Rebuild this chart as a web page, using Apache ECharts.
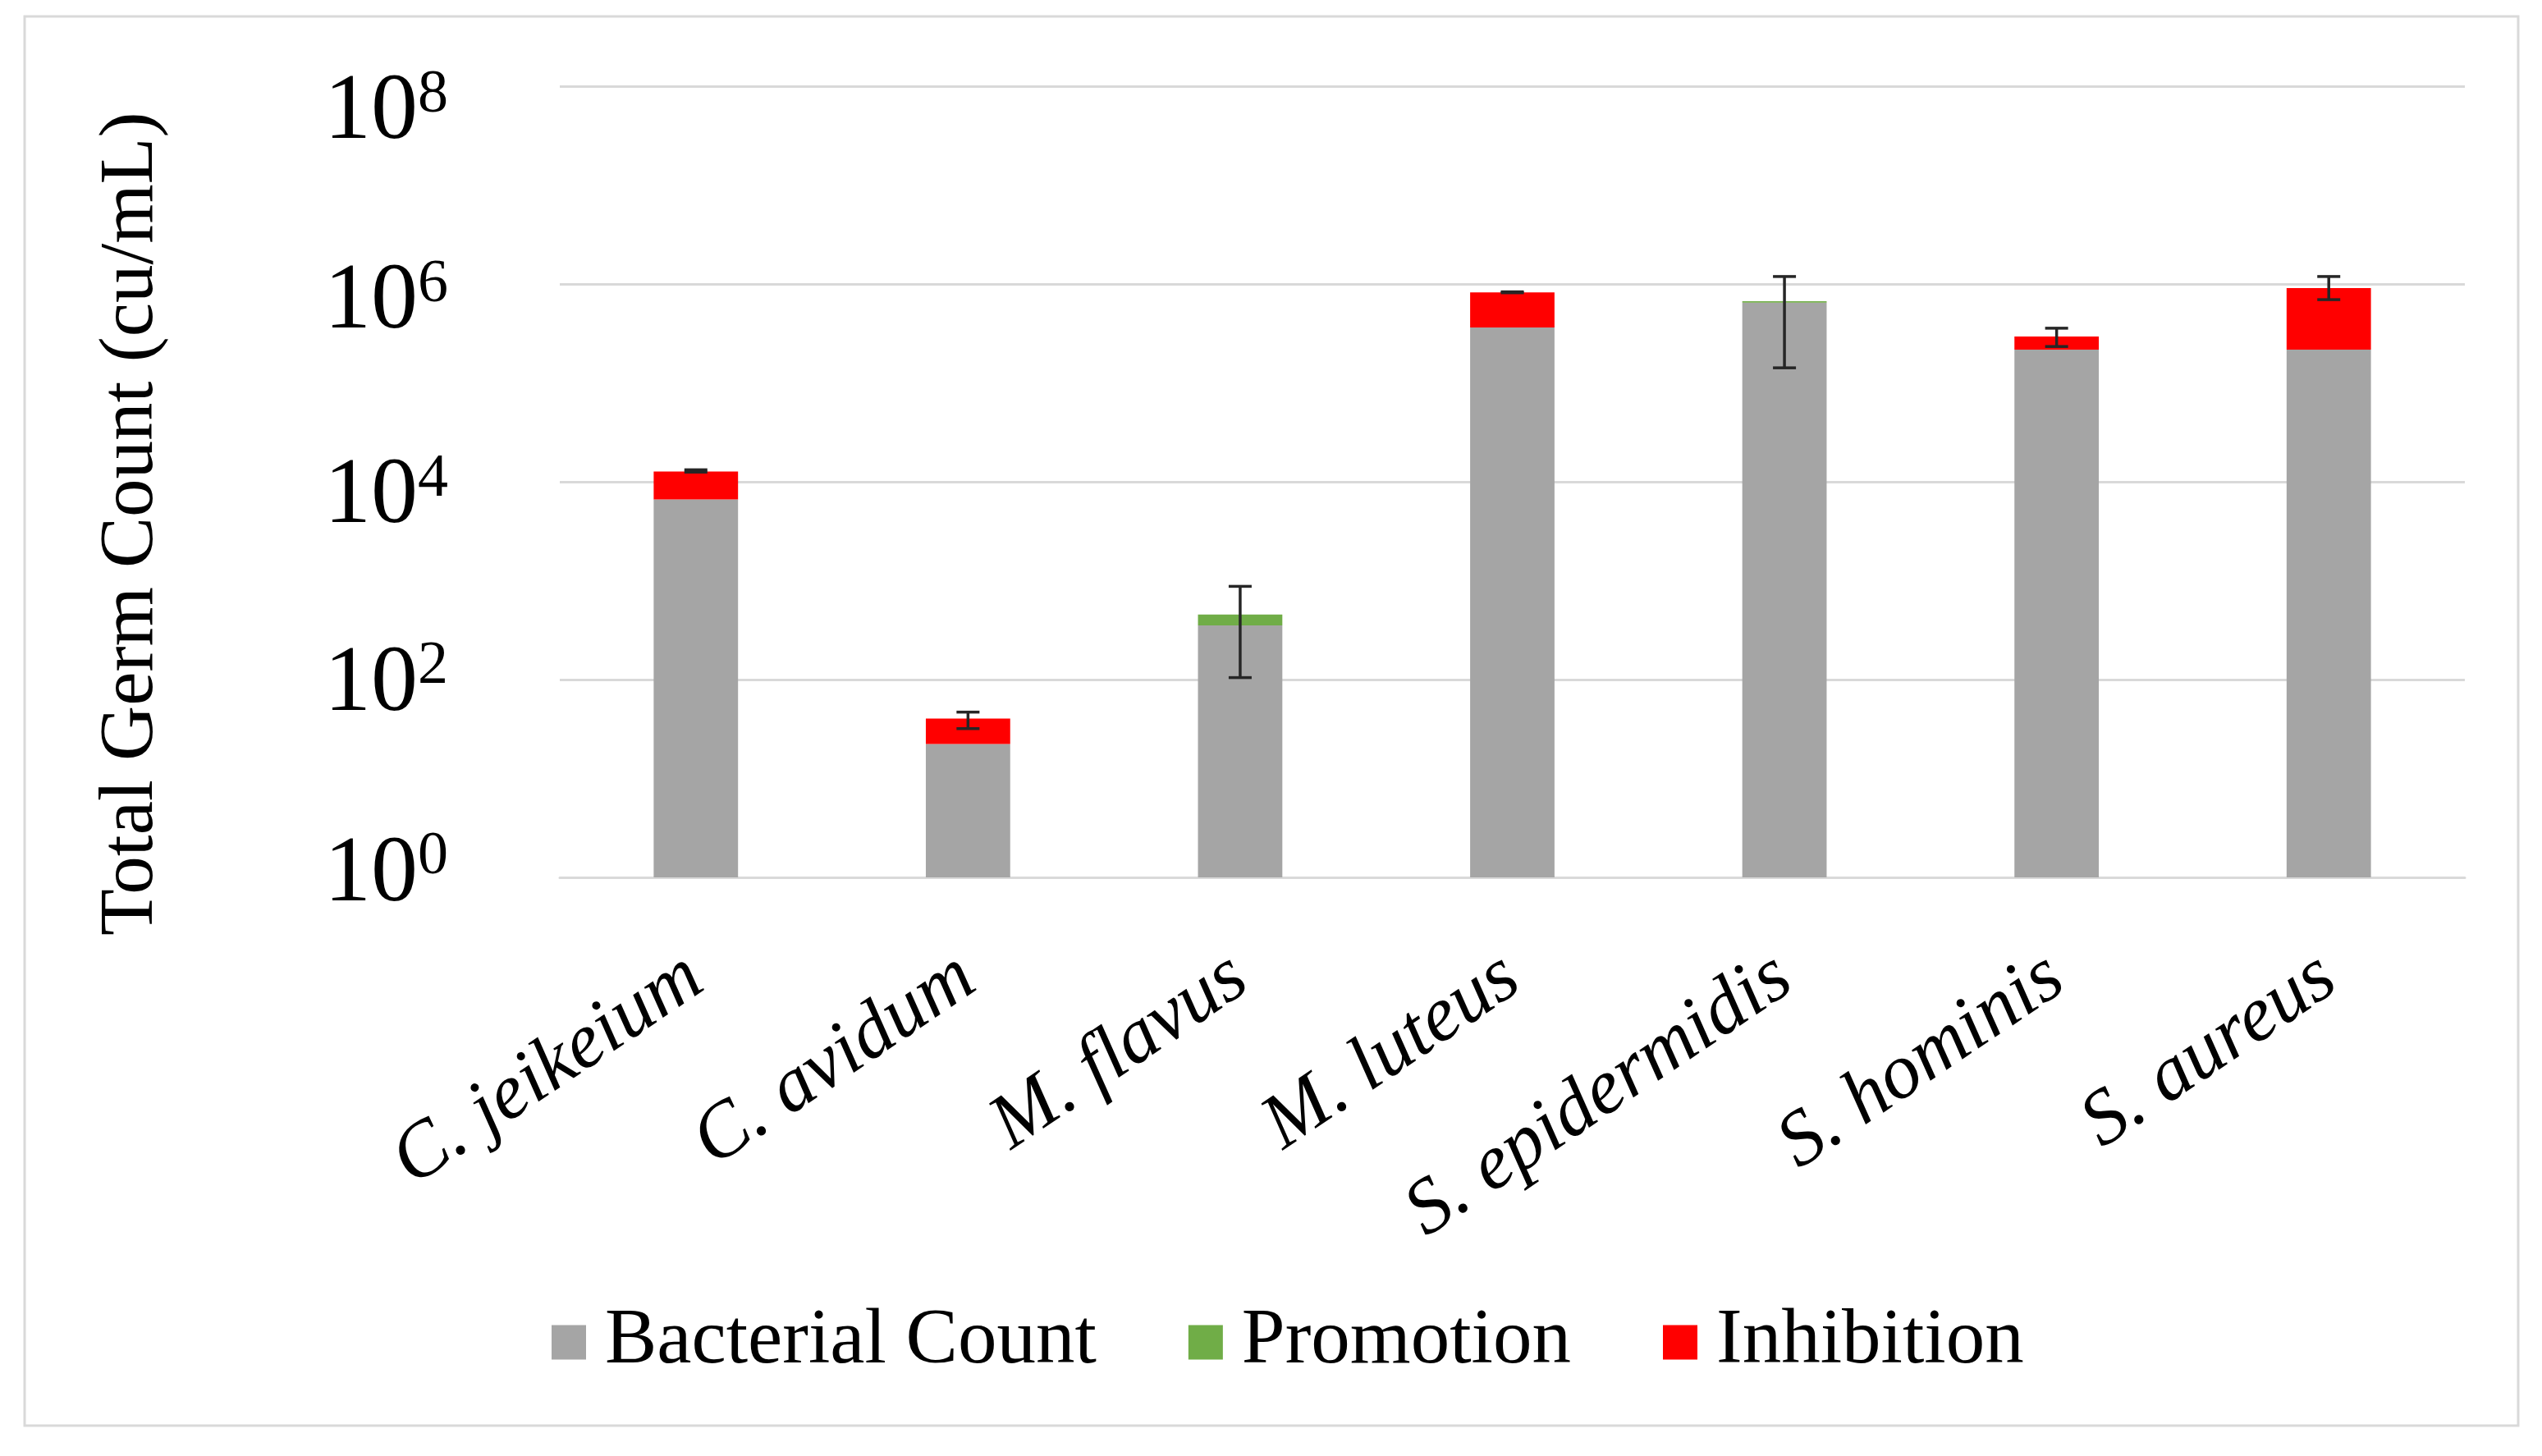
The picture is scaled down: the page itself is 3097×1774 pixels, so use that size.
<!DOCTYPE html>
<html>
<head>
<meta charset="utf-8">
<script src="https://cdn.jsdelivr.net/npm/echarts@6/dist/echarts.min.js"></script>
<style>
  html, body { margin: 0; padding: 0; background: #fff; }
  #chart { width: 3097px; height: 1774px; }
</style>
</head>
<body>
<div id="chart"></div>
<script>
// ---- data ----
const categories = ['C. jeikeium', 'C. avidum', 'M. flavus', 'M. luteus', 'S. epidermidis', 'S. hominis', 'S. aureus'];
const bacterialCount = [6670, 22.4, 355, 365600, 654000, 218500, 218500];
const promotion = ['-', '-', 101, '-', 21000, '-', '-'];
const inhibition = [6100, 18, '-', 465000, '-', 78500, 700000];
const errLow = [12600, 32, 105, 822000, 143000, 235000, 700000];
const errHigh = [13300, 47, 880, 840000, 1200000, 360000, 1200000];
const yExponents = [0, 2, 4, 6, 8];

// ---- layout (label placement, in decades relative to each gridline) ----
const yLabelShift = [0.017, -0.055, -0.156, -0.189, -0.272];

const FONT = 'Liberation Serif';
const chart = echarts.init(document.getElementById('chart'), null, { renderer: 'canvas' });

const errData = categories.map((c, i) => [i, errLow[i], errHigh[i]]);

const option = {
  animation: false,
  backgroundColor: '#ffffff',
  textStyle: { fontFamily: FONT, color: '#000' },
  graphic: [{
    type: 'rect', silent: true,
    shape: { x: 30, y: 20, width: 3038, height: 1717 },
    style: { fill: 'none', stroke: '#d9d9d9', lineWidth: 3 }
  }],
  grid: { left: 682, right: 94, top: 105.6, bottom: 705, containLabel: false },
  legend: {
    data: ['Bacterial Count', 'Promotion', 'Inhibition'],
    left: 667, top: 1583,
    icon: 'rect', itemWidth: 42, itemHeight: 42, itemGap: 112,
    textStyle: { fontFamily: FONT, fontSize: 95, color: '#000', padding: [0, 0, 0, 18] }
  },
  xAxis: {
    type: 'category',
    data: categories,
    axisLine: { show: true, lineStyle: { color: '#d9d9d9', width: 3 } },
    axisTick: { show: false },
    axisLabel: {
      interval: 0, rotate: 34, margin: 114,
      fontFamily: FONT, fontStyle: 'italic', fontSize: 95, color: '#000',
      hideOverlap: false
    }
  },
  yAxis: {
    type: 'log', logBase: 10, min: 1, max: 1e8, interval: 2,
    name: 'Total Germ Count (cu/mL)',
    nameLocation: 'middle', nameRotate: 90, nameGap: 475,
    nameTextStyle: { fontFamily: FONT, fontSize: 93, color: '#000', padding: [0, 102, 0, 0] },
    axisLine: { show: false },
    axisTick: { show: false },
    splitLine: { show: true, lineStyle: { color: '#d9d9d9', width: 3 } },
    axisLabel: {
      margin: 136,
      customValues: yExponents.map((e, i) => Math.pow(10, e + yLabelShift[i])),
      formatter: function (v) {
        const e = Math.round(Math.log10(v));
        return '{b|10}{s|' + e + '}';
      },
      rich: {
        b: { fontFamily: FONT, fontSize: 114, lineHeight: 114, color: '#000' },
        s: { fontFamily: FONT, fontSize: 74, lineHeight: 74, color: '#000', padding: [0, 0, 44, 0] }
      }
    }
  },
  series: [
    { name: 'Bacterial Count', type: 'bar', stack: 'total', barWidth: '31%', data: bacterialCount,
      itemStyle: { color: '#A5A5A5' } },
    { name: 'Promotion', type: 'bar', stack: 'total', data: promotion,
      itemStyle: { color: '#70AD47' } },
    { name: 'Inhibition', type: 'bar', stack: 'total', data: inhibition,
      itemStyle: { color: '#FF0000' } },
    {
      name: 'error', type: 'custom', z: 10, data: errData,
      encode: { x: 0, y: [1, 2] },
      renderItem: function (params, api) {
        const x = api.value(0);
        const pLo = api.coord([x, api.value(1)]);
        const pHi = api.coord([x, api.value(2)]);
        const hw = 14;
        const st = { stroke: '#262626', lineWidth: 3.5 };
        return {
          type: 'group',
          children: [
            { type: 'line', shape: { x1: pLo[0], y1: pHi[1], x2: pLo[0], y2: pLo[1] }, style: st },
            { type: 'line', shape: { x1: pLo[0] - hw, y1: pHi[1], x2: pLo[0] + hw, y2: pHi[1] }, style: st },
            { type: 'line', shape: { x1: pLo[0] - hw, y1: pLo[1], x2: pLo[0] + hw, y2: pLo[1] }, style: st }
          ]
        };
      }
    }
  ]
};
chart.setOption(option);
</script>
</body>
</html>
